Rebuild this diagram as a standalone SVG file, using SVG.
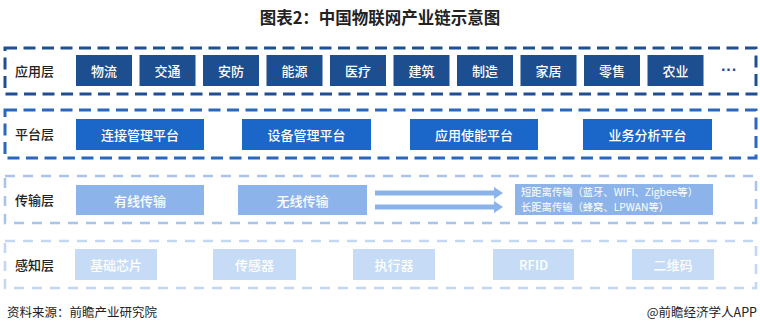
<svg xmlns="http://www.w3.org/2000/svg" width="760" height="333" viewBox="0 0 760 333">
<defs>
<style>
text{font-family:"Noto Sans CJK SC","Liberation Sans",sans-serif;}
.title{font-size:16.5px;font-weight:bold;fill:#222;text-anchor:middle;}
.lab{font-size:13px;fill:#222;font-weight:500;}
.bt{font-size:13px;fill:#fff;text-anchor:middle;dominant-baseline:central;font-weight:500;}
.foot{font-size:12.5px;fill:#222;}
.l1{fill:none;stroke:#1f4f8f;stroke-width:3;stroke-dasharray:12 6.5;}
.l2{fill:none;stroke:#2a67bd;stroke-width:3;stroke-dasharray:12 6.5;}
.l3{fill:none;stroke:#a6c4ec;stroke-width:2.6;stroke-dasharray:10 8;}
.l4{fill:none;stroke:#c3d7f3;stroke-width:2.6;stroke-dasharray:10 8;}
.b1{fill:#1d4e90;}
.b2{fill:#1a66c9;}
.b3{fill:#8db4ea;}
.b4{fill:#c6dbf6;}
.arr{stroke:#8ab3ea;stroke-width:5;fill:none;}
.tr{font-size:10.3px;fill:#fff;font-family:"Noto Sans CJK SC","DejaVu Sans Mono",monospace;}
</style>
<marker id="ah" markerWidth="4" markerHeight="4" refX="0.6" refY="2" orient="auto" markerUnits="strokeWidth" viewBox="0 0 4 4">
<path d="M0,0.8 L1.8,2 L0,3.2 Z" fill="#8ab3ea"/>
</marker>
</defs>
<rect width="760" height="333" fill="#fff"/>
<text class="title" x="380" y="24">图表2：中国物联网产业链示意图</text>

<g id="layer-app">
<rect class="l1" x="5" y="48" width="751" height="46"/>
<text class="lab" x="15" y="76">应用层</text>
</g>
<g id="app-nodes">
<g id="n-wuliu"><rect class="b1" x="76" y="55" width="56" height="31"/><text class="bt" x="104" y="70.5">物流</text></g>
<g id="n-jiaotong"><rect class="b1" x="139.5" y="55" width="56" height="31"/><text class="bt" x="167.5" y="70.5">交通</text></g>
<g id="n-anfang"><rect class="b1" x="203" y="55" width="56" height="31"/><text class="bt" x="231" y="70.5">安防</text></g>
<g id="n-nengyuan"><rect class="b1" x="266.5" y="55" width="56" height="31"/><text class="bt" x="294.5" y="70.5">能源</text></g>
<g id="n-yiliao"><rect class="b1" x="330" y="55" width="56" height="31"/><text class="bt" x="358" y="70.5">医疗</text></g>
<g id="n-jianzhu"><rect class="b1" x="393.5" y="55" width="56" height="31"/><text class="bt" x="421.5" y="70.5">建筑</text></g>
<g id="n-zhizao"><rect class="b1" x="457" y="55" width="56" height="31"/><text class="bt" x="485" y="70.5">制造</text></g>
<g id="n-jiaju"><rect class="b1" x="520.5" y="55" width="56" height="31"/><text class="bt" x="548.5" y="70.5">家居</text></g>
<g id="n-lingshou"><rect class="b1" x="584" y="55" width="56" height="31"/><text class="bt" x="612" y="70.5">零售</text></g>
<g id="n-nongye"><rect class="b1" x="647.5" y="55" width="56" height="31"/><text class="bt" x="675.5" y="70.5">农业</text></g>
<g id="n-more"><text x="729" y="75" style="font-size:16px;font-weight:bold;fill:#1d4e90;text-anchor:middle;font-family:'Liberation Sans',sans-serif">···</text></g>
</g>

<g id="layer-platform">
<rect class="l2" x="5" y="110" width="751" height="48"/>
<text class="lab" x="15" y="139">平台层</text>
</g>
<g id="platform-nodes">
<g id="n-lianjie"><rect class="b2" x="76" y="119" width="128" height="31"/><text class="bt" x="140" y="134.5">连接管理平台</text></g>
<g id="n-shebei"><rect class="b2" x="242" y="119" width="129" height="31"/><text class="bt" x="306.5" y="134.5">设备管理平台</text></g>
<g id="n-yingyong"><rect class="b2" x="410" y="119" width="128" height="31"/><text class="bt" x="474" y="134.5">应用使能平台</text></g>
<g id="n-yewu"><rect class="b2" x="583" y="119" width="129" height="31"/><text class="bt" x="647.5" y="134.5">业务分析平台</text></g>
</g>

<g id="layer-transport">
<rect class="l3" x="5" y="176" width="751" height="47"/>
<text class="lab" x="15" y="205">传输层</text>
</g>
<g id="transport-nodes">
<g id="n-youxian"><rect class="b3" x="76" y="185" width="128" height="30"/><text class="bt" x="140" y="200">有线传输</text></g>
<g id="n-wuxian"><rect class="b3" x="238" y="185" width="129" height="30"/><text class="bt" x="302.5" y="200">无线传输</text></g>
<g id="n-range"><rect class="b3" x="515" y="184" width="198" height="31"/>
<text class="tr" x="521" y="196">短距离传输（蓝牙、WIFI、Zigbee等）</text>
<text class="tr" x="521" y="211">长距离传输（蜂窝、LPWAN等）</text></g>
</g>
<g id="connectors">
<line class="arr" x1="375" y1="193" x2="497" y2="193" marker-end="url(#ah)"/>
<line class="arr" x1="375" y1="207" x2="497" y2="207" marker-end="url(#ah)"/>
</g>

<g id="layer-sensing">
<rect class="l4" x="5" y="241" width="751" height="47"/>
<text class="lab" x="15" y="270">感知层</text>
</g>
<g id="sensing-nodes">
<g id="n-xinpian"><rect class="b4" x="75" y="249" width="82" height="31"/><text class="bt" x="116" y="264.5">基础芯片</text></g>
<g id="n-chuanganqi"><rect class="b4" x="213" y="249" width="83" height="31"/><text class="bt" x="254.5" y="264.5">传感器</text></g>
<g id="n-zhixingqi"><rect class="b4" x="353" y="249" width="82" height="31"/><text class="bt" x="394" y="264.5">执行器</text></g>
<g id="n-rfid"><rect class="b4" x="493" y="249" width="81" height="31"/><text class="bt" x="533.5" y="264.5">RFID</text></g>
<g id="n-erweima"><rect class="b4" x="632" y="249" width="82" height="31"/><text class="bt" x="673" y="264.5">二维码</text></g>
</g>

<text class="foot" x="7" y="317">资料来源：前瞻产业研究院</text>
<text class="foot" x="757" y="317" text-anchor="end">@前瞻经济学人APP</text>
</svg>
